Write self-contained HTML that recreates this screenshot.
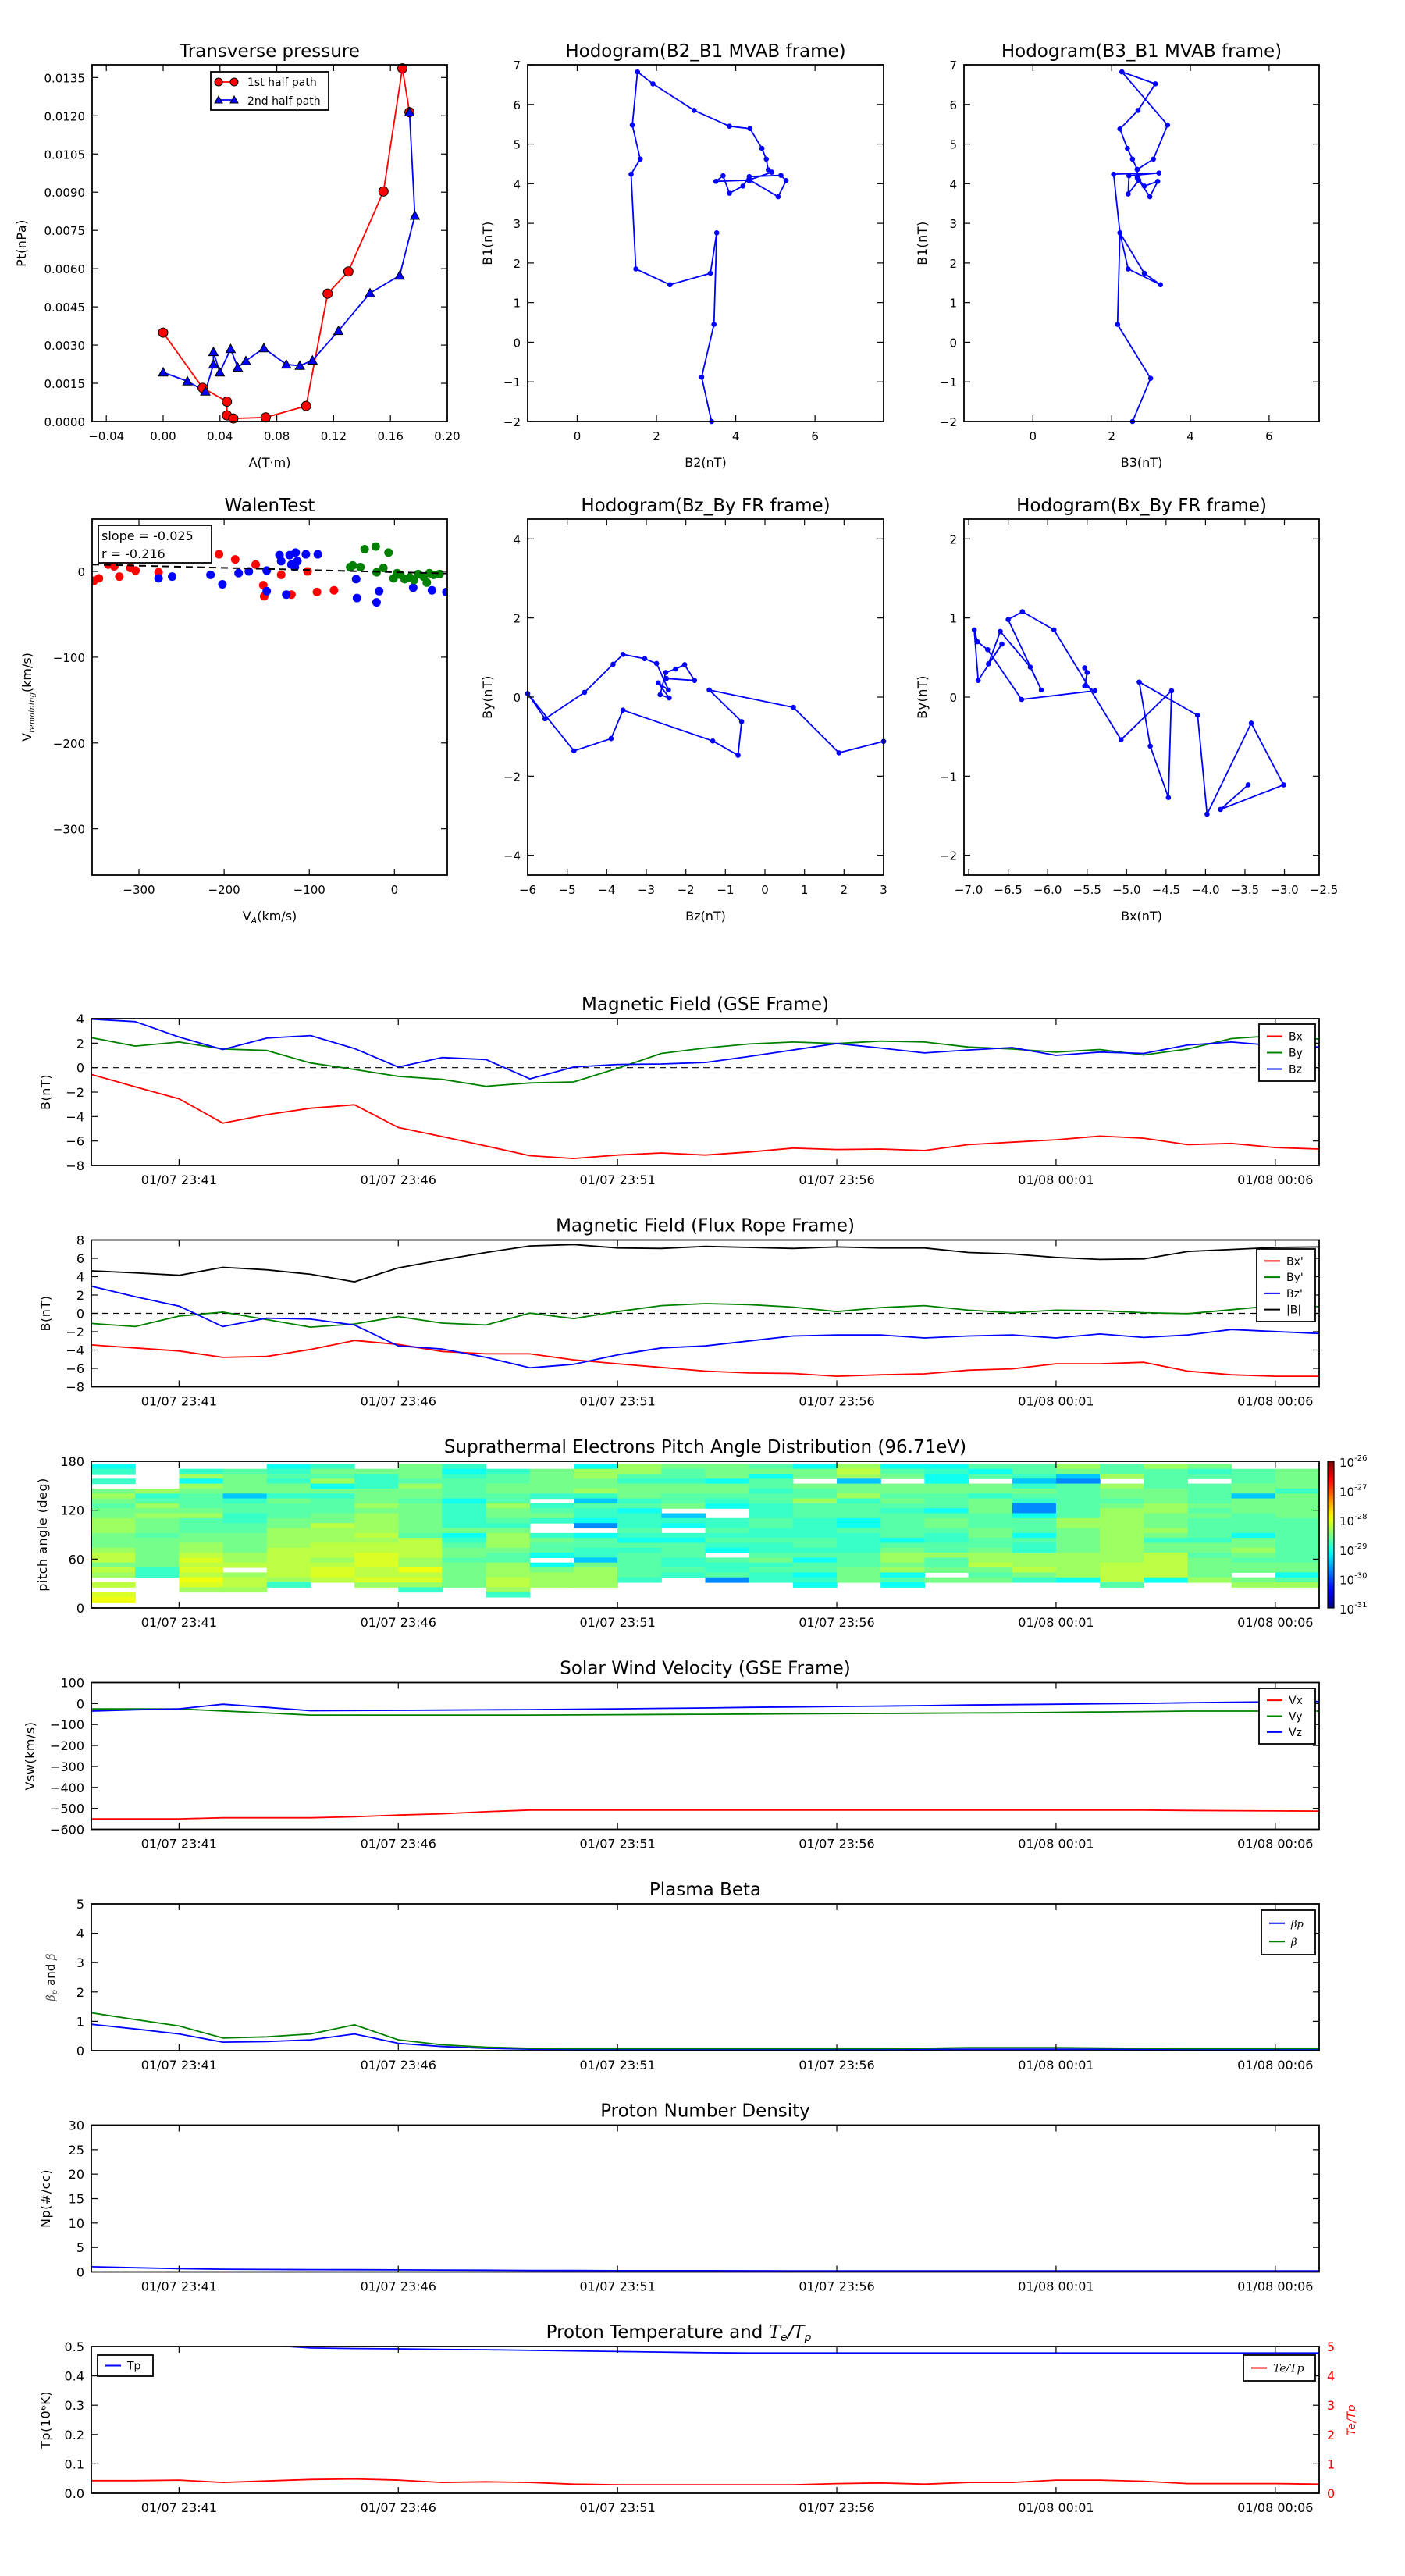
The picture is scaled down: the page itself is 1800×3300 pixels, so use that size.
<!DOCTYPE html>
<html><head><meta charset="utf-8"><title>Flux rope analysis</title>
<style>
html,body{margin:0;padding:0;background:#fff;}
svg{display:block;font-family:"DejaVu Sans","Liberation Sans",sans-serif;}
</style></head>
<body>
<svg id="chart" xmlns="http://www.w3.org/2000/svg" width="1800" height="3300" viewBox="0 0 1800 3300">
<rect x="0" y="0" width="1800" height="3300" fill="#fff"/>
<defs id="defs"></defs>
</svg>
<script>
// ---------- data: transverse pressure ----------
const tpRedA = [0.0000,0.0278,0.0449,0.0449,0.0494,0.0722,0.1006,0.1158,0.1304,0.1551,0.1684,0.1734];
const tpRedP = [0.00349,0.00132,0.00078,0.00024,0.00012,0.00016,0.00061,0.00502,0.00589,0.00903,0.01386,0.01214];
const tpBlueA = [0,0.0171,0.0297,0.0354,0.0354,0.0399,0.0475,0.0525,0.0582,0.0709,0.0867,0.0962,0.1051,0.1234,0.1456,0.1665,0.1772,0.1734];
const tpBlueP = [0.00193,0.00158,0.00118,0.00224,0.00273,0.00193,0.00285,0.00212,0.00238,0.00288,0.00224,0.00219,0.0024,0.00356,0.00504,0.00573,0.00808,0.01214];
const tpXTicks = [-0.04,0,0.04,0.08,0.12,0.16,0.20];
const tpXTickLabels = ["\u22120.04","0.00","0.04","0.08","0.12","0.16","0.20"];
const tpYTicks = [0,0.0015,0.003,0.0045,0.006,0.0075,0.009,0.0105,0.012,0.0135];
const tpYTickLabels = ["0.0000","0.0015","0.0030","0.0045","0.0060","0.0075","0.0090","0.0105","0.0120","0.0135"];
// ---------- hodogram MVAB ----------
const h1B2 = [3.39,3.14,3.45,3.52,3.36,2.34,1.48,1.36,1.59,1.39,1.52,1.91,2.95,3.84,4.36,4.66,4.77,4.82,4.91,4.32,3.5,3.68,3.84,4.18,4.34,5.14,5.27,5.07,4.36];
const h1B1 = [-2.0,-0.88,0.45,2.76,1.74,1.45,1.85,4.24,4.62,5.48,6.82,6.52,5.85,5.45,5.39,4.89,4.62,4.35,4.29,4.09,4.06,4.2,3.76,3.94,4.18,4.21,4.08,3.67,4.09];
const h2B3 = [2.53,2.99,2.15,2.21,2.83,3.24,2.42,2.21,2.05,3.2,2.44,2.42,2.69,2.97,3.17,2.83,2.65,2.65,2.53,2.4,2.21,2.67,3.11,2.26,3.42,3.06,2.65];
const h2B1 = [-2.0,-0.91,0.45,2.76,1.74,1.45,1.85,2.76,4.24,4.27,4.2,3.74,4.09,3.67,4.06,3.94,4.15,4.36,4.62,4.89,5.38,5.85,6.52,6.82,5.48,4.62,4.36];
const hXTicks = [0,2,4,6];
const hYTicks = [-2,-1,0,1,2,3,4,5,6,7];
// ---------- Walen test ----------
const walRedVA = [-353,-347,-336,-329,-323,-310,-304,-277,-206,-187,-163,-154,-153,-133,-121,-102,-91,-71];
const walRedVR = [-11,-8,8,6,-6,4,1,-1,20,14,8,-16,-29,-4,-27,0,-24,-22];
const walBlueVA = [-277,-261,-216,-202,-183,-171,-150,-150,-135,-133,-127,-123,-121,-117,-116,-114,-104,-90,-45,-44,-21,-18,22,44,61];
const walBlueVR = [-8,-6,-4,-15,-2,0,1,-23,19,12,-27,19,8,5,22,12,20,20,-9,-31,-36,-23,-19,-22,-24];
const walGreenVA = [-52,-49,-40,-35,-22,-21,-13,-7,-1,3,7,12,18,23,28,34,38,41,46,53];
const walGreenVR = [5,7,5,26,29,-1,4,22,-8,-2,-4,-9,-7,-10,-3,-6,-13,-2,-4,-3];
const walSlope = -0.025;
const walIntercept = -0.8;
const walXTicks = [-300,-200,-100,0];
const walYTicks = [0,-100,-200,-300];
// ---------- hodogram FR ----------
const frBz = [3.0,1.87,0.72,-1.41,-0.59,-0.68,-1.32,-3.59,-3.89,-4.83,-6.0,-5.56,-4.56,-3.84,-3.59,-3.04,-2.74,-2.44,-2.7,-2.42,-2.65,-2.51,-2.26,-2.03,-1.78,-2.49];
const frByA = [-1.12,-1.41,-0.26,0.18,-0.62,-1.47,-1.11,-0.33,-1.05,-1.36,0.09,-0.55,0.12,0.83,1.08,0.97,0.85,0.18,0.36,-0.02,0.06,0.62,0.71,0.82,0.42,0.47];
const frBx = [-3.46,-3.81,-3.01,-3.42,-3.98,-4.1,-4.84,-4.70,-4.47,-4.43,-5.07,-5.92,-6.32,-6.50,-6.08,-6.22,-6.60,-6.75,-6.58,-6.88,-6.93,-6.89,-6.76,-6.33,-5.40,-5.53,-5.50,-5.53];
const frByB = [-1.11,-1.42,-1.11,-0.33,-1.48,-0.23,0.19,-0.62,-1.27,0.08,-0.54,0.85,1.08,0.98,0.09,0.38,0.83,0.42,0.67,0.21,0.85,0.70,0.60,-0.03,0.08,0.14,0.31,0.37];
// ---------- time series (minutes from 01/07 23:39, 1-min cadence) ----------
const timeTickMinutes = [2,7,12,17,22,27];
const timeTickLabels = ["01/07 23:41","01/07 23:46","01/07 23:51","01/07 23:56","01/08 00:01","01/08 00:06"];
const gseBx = [-0.56,-1.57,-2.55,-4.54,-3.85,-3.32,-3.04,-4.9,-5.64,-6.41,-7.2,-7.43,-7.15,-6.98,-7.15,-6.9,-6.58,-6.7,-6.66,-6.78,-6.3,-6.1,-5.9,-5.6,-5.77,-6.3,-6.2,-6.54,-6.66];
const gseBy = [2.45,1.76,2.09,1.52,1.4,0.38,-0.15,-0.72,-0.96,-1.53,-1.25,-1.17,-0.06,1.16,1.6,1.93,2.09,1.97,2.17,2.09,1.68,1.52,1.27,1.48,1.03,1.52,2.37,2.62,2.33];
const gseBz = [3.96,3.76,2.5,1.48,2.41,2.62,1.56,0.05,0.83,0.66,-0.92,0.05,0.26,0.3,0.42,0.91,1.44,1.97,1.6,1.2,1.44,1.64,1.0,1.27,1.16,1.84,2.09,1.8,1.68];
const frBxp = [-3.44,-3.77,-4.1,-4.8,-4.7,-3.93,-2.95,-3.39,-4.15,-4.42,-4.42,-5.07,-5.5,-5.9,-6.3,-6.5,-6.55,-6.86,-6.7,-6.6,-6.2,-6.05,-5.5,-5.5,-5.34,-6.3,-6.7,-6.86,-6.86];
const frByp = [-1.1,-1.44,-0.3,0.14,-0.68,-1.5,-1.16,-0.35,-1.06,-1.27,0.03,-0.57,0.2,0.84,1.06,0.95,0.68,0.2,0.63,0.84,0.35,0.08,0.35,0.3,0.08,-0.03,0.4,0.84,0.73];
const frBzp = [2.96,1.82,0.79,-1.44,-0.52,-0.63,-1.27,-3.55,-3.88,-4.8,-5.94,-5.56,-4.53,-3.77,-3.55,-3.0,-2.47,-2.36,-2.36,-2.68,-2.47,-2.36,-2.68,-2.25,-2.63,-2.36,-1.76,-1.98,-2.2];
const frBt = [4.64,4.42,4.15,5.02,4.75,4.26,3.44,4.96,5.83,6.64,7.35,7.51,7.13,7.08,7.3,7.19,7.08,7.24,7.13,7.13,6.64,6.48,6.1,5.88,5.94,6.75,6.97,7.19,7.24];
const swVx = [-550,-550,-550,-545,-545,-545,-540,-532,-526,-516,-508,-508,-508,-508,-508,-508,-508,-508,-508,-508,-508,-508,-508,-508,-508,-510,-511,-512,-513];
const swVy = [-25,-25,-26,-35,-45,-55,-55,-55,-55,-55,-55,-54,-53,-52,-51,-50,-49,-48,-47,-46,-45,-44,-42,-40,-38,-36,-36,-36,-36];
const swVz = [-36,-30,-25,-3,-18,-34,-33,-32,-31,-30,-29,-27,-25,-23,-21,-18,-16,-14,-12,-10,-7,-5,-3,-1,1,4,6,8,10];
const betaP = [0.9,0.74,0.57,0.29,0.31,0.37,0.57,0.25,0.14,0.08,0.05,0.04,0.04,0.04,0.04,0.04,0.04,0.04,0.04,0.04,0.05,0.05,0.05,0.05,0.04,0.04,0.03,0.03,0.03];
const betaAll = [1.29,1.06,0.84,0.43,0.47,0.57,0.88,0.37,0.2,0.12,0.08,0.07,0.07,0.07,0.07,0.07,0.07,0.07,0.07,0.08,0.1,0.1,0.1,0.09,0.08,0.07,0.07,0.07,0.07];
const npDens = [1.05,0.85,0.65,0.55,0.5,0.47,0.45,0.42,0.38,0.35,0.3,0.28,0.26,0.25,0.25,0.24,0.23,0.22,0.22,0.21,0.2,0.2,0.2,0.2,0.2,0.2,0.2,0.2,0.2];
const tpTemp = [0.52,0.52,0.51,0.51,0.505,0.495,0.493,0.492,0.49,0.489,0.487,0.485,0.483,0.481,0.479,0.478,0.478,0.478,0.478,0.478,0.478,0.478,0.478,0.478,0.478,0.478,0.478,0.478,0.478];
const teTp = [0.43,0.43,0.45,0.37,0.42,0.47,0.49,0.45,0.37,0.39,0.37,0.31,0.29,0.29,0.29,0.29,0.29,0.33,0.35,0.31,0.37,0.37,0.45,0.45,0.41,0.33,0.33,0.33,0.31];
// ---------- pitch angle distribution: 28 one-minute columns x 28 angle bins (top=~177deg) ----------
// each char is a flux level index into padLevels (log10), '.' = no data
const padLevels = [-29.7,-29.4,-29.05,-28.85,-28.7,-28.55,-28.35,-28.2,-28.05,-27.95];
const padCols = [
"23.3.565455666555677576.7.89",
".....634656555455555533.....",
".3626544456444556678787986..",
".45555134433445555667.6776..",
"2343553544455666677777763...",
"354625344455766677767887....",
".533355565666676778887786...",
"55546554555555477776697863..",
"3234444233333523455455555...",
".34455446554356665446667763.",
".555553.3453..35442.25666...",
"2665563143320.24433156666...",
"664355534233343243444443....",
"544355445.132.324443343.....",
"555255432..3343432.43340....",
"452443443334433433453433....",
"255.544644433334434244232...",
"676155634442243333444555....",
"245.554543444442456656242...",
"2322554442455433446445.5....",
"424.55355544455445667545....",
"443135430024442433666753....",
"651044444446655555666662....",
"446.655456666666666677774...",
"644445556655565355777772....",
"534.44445454444355455556....",
".444551555444425565455.56...",
".555535555544444444455246..."
];
const padYTicks = [0,60,120,180];
const cbarExponents = ["-26","-27","-28","-29","-30","-31"];

// ================= rendering =================
const NS = 'http://www.w3.org/2000/svg';
const svg = document.getElementById('chart');
const defs = document.getElementById('defs');
let clipCount = 0;
function mk(tag, attrs, parent){
  const e = document.createElementNS(NS, tag);
  for (const k in attrs) e.setAttribute(k, attrs[k]);
  (parent || svg).appendChild(e);
  return e;
}
function lin(d0, d1, r0, r1){ return v => r0 + (v - d0) * (r1 - r0) / (d1 - d0); }
function txt(x, y, s, size, anchor, parent, extra){
  const a = {x: x, y: y, 'font-size': size, 'text-anchor': anchor || 'middle', fill: '#000'};
  if (extra) for (const k in extra) a[k] = extra[k];
  const t = mk('text', a, parent);
  t.textContent = s;
  return t;
}
function group(name, parent){
  const g = mk('g', {}, parent);
  
  
  return g;
}
function clipFor(x, y, w, h){
  const id = 'clip' + (clipCount++);
  const cp = mk('clipPath', {id: id}, defs);
  mk('rect', {x: x, y: y, width: w, height: h}, cp);
  return 'url(#' + id + ')';
}
function frame(g, x0, y0, w, h){
  const f = mk('rect', {x: x0, y: y0, width: w, height: h, fill: 'none', stroke: '#000', 'stroke-width': 1.8}, g);
  
  
}
function xTicks(g, x0, y0, w, h, sx, ticks, labels, fs, color){
  ticks.forEach((v, i) => {
    const x = sx(v);
    if (x < x0 - 0.5 || x > x0 + w + 0.5) return;
    const t1 = mk('line', {x1: x, x2: x, y1: y0 + h, y2: y0 + h - 8, stroke: '#000', 'stroke-width': 1.2}, g);
    
    
    const t2 = mk('line', {x1: x, x2: x, y1: y0, y2: y0 + 8, stroke: '#000', 'stroke-width': 1.2}, g);
    
    
  });
  ticks.forEach((v, i) => {
    const x = sx(v);
    const lb = txt(x, y0 + h + 24, labels[i], fs || 16, 'middle', g);
    
    
  });
}
function yTicks(g, x0, y0, w, h, sy, ticks, labels, fs){
  ticks.forEach((v, i) => {
    const y = sy(v);
    const t1 = mk('line', {x1: x0, x2: x0 + 8, y1: y, y2: y, stroke: '#000', 'stroke-width': 1.2}, g);
    
    
    const t2 = mk('line', {x1: x0 + w, x2: x0 + w - 8, y1: y, y2: y, stroke: '#000', 'stroke-width': 1.2}, g);
    
    
    const lb = txt(x0 - 9, y + 6, labels[i], fs || 16, 'end', g);
    
    
  });
}
function polyline(g, xs, ys, sx, sy, color, width, clip, name){
  const pts = xs.map((v, i) => sx(v).toFixed(1) + ',' + sy(ys[i]).toFixed(1)).join(' ');
  const p = mk('polyline', {points: pts, fill: 'none', stroke: color, 'stroke-width': width || 1.8, 'stroke-linejoin': 'round', 'clip-path': clip}, g);
  
  
  return p;
}
function dots(g, xs, ys, sx, sy, color, r, clip, name, stroke){
  xs.forEach((v, i) => {
    const c = mk('circle', {cx: sx(v), cy: sy(ys[i]), r: r, fill: color, stroke: stroke || 'none', 'stroke-width': 1, 'clip-path': clip}, g);
    
    
  });
}
function tris(g, xs, ys, sx, sy, color, s, clip, name){
  xs.forEach((v, i) => {
    const x = sx(v), y = sy(ys[i]);
    const p = mk('polygon', {points: `${x},${y - s} ${x - s},${y + s * 0.8} ${x + s},${y + s * 0.8}`, fill: color, stroke: '#000', 'stroke-width': 1, 'clip-path': clip}, g);
    
    
  });
}
function title(g, x, y, s){
  const t = txt(x, y, s, 23, 'middle', g);
  
  
  return t;
}
function ylab(g, x, y, s, color){
  const t = txt(x, y, s, 16, 'middle', g, {transform: `rotate(-90 ${x} ${y})`, fill: color || '#000', 'letter-spacing': '0.5'});
  
  
  return t;
}
function xlab(g, x, y, s){
  const t = txt(x, y, s, 16, 'middle', g);
  
  
  return t;
}
function legend(g, x, y, w, h, entries, fs){
  const lg = group('legend', g);
  const b = mk('rect', {x: x, y: y, width: w, height: h, fill: '#fff', stroke: '#000', 'stroke-width': 1.8}, lg);
  
  
  const step = (h - 10) / entries.length;
  entries.forEach((e, i) => {
    const cy = y + 5 + step * (i + 0.5);
    const l = mk('line', {x1: x + 10, x2: x + 30, y1: cy, y2: cy, stroke: e.color, 'stroke-width': 2}, lg);
    
    
    const t = txt(x + 38, cy + 5, e.label, fs || 14, 'start', lg, e.italic ? {'font-style': 'italic', 'font-family': '"DejaVu Serif","Liberation Serif",serif'} : {});
    
    
  });
  return lg;
}

// ---------- top row geometry ----------
const R1T = 83, R1B = 540, R2T = 665, R2B = 1121;
const C1 = [118, 573], C2 = [676, 1132], C3 = [1235, 1690];

// Transverse pressure
(function(){
  const g = group('transverse-pressure-panel');
  const x0 = C1[0], w = C1[1] - C1[0], y0 = R1T, h = R1B - R1T;
  const sx = lin(-0.05, 0.20, x0, x0 + w), sy = lin(0, 0.014, y0 + h, y0);
  const clip = clipFor(x0 - 8, y0 - 8, w + 16, h + 16);
  polyline(g, tpRedA, tpRedP, sx, sy, '#ff0000', 1.8, clip, 'first-half-path-line');
  polyline(g, tpBlueA, tpBlueP, sx, sy, '#0000ff', 1.8, clip, 'second-half-path-line');
  dots(g, tpRedA, tpRedP, sx, sy, '#ff0000', 6, clip, 'first-half-point', '#000');
  tris(g, tpBlueA, tpBlueP, sx, sy, '#0000ff', 6, clip, 'second-half-point');
  frame(g, x0, y0, w, h);
  xTicks(g, x0, y0, w, h, sx, tpXTicks, tpXTickLabels, 15);
  yTicks(g, x0, y0, w, h, sy, tpYTicks, tpYTickLabels, 15);
  title(g, (x0 + x0 + w) / 2, 73, 'Transverse pressure');
  xlab(g, (x0 + x0 + w) / 2, 598, 'A(T\u00b7m)');
  ylab(g, 33, (y0 + y0 + h) / 2, 'Pt(nPa)');
  const lg = group('legend', g);
  const b = mk('rect', {x: 270, y: 92, width: 151, height: 49, fill: '#fff', stroke: '#000', 'stroke-width': 1.8}, lg);
  
  
  const l1 = mk('line', {x1: 280, x2: 300, y1: 105, y2: 105, stroke: '#f00', 'stroke-width': 1.8}, lg);
  
  
  dots(lg, [280, 300], [105, 105], v => v, v => v, '#f00', 5, null, 'legend-marker', '#000');
  const t1 = txt(317, 110, '1st half path', 14, 'start', lg);
  
  
  const l2 = mk('line', {x1: 280, x2: 300, y1: 128, y2: 128, stroke: '#00f', 'stroke-width': 1.8}, lg);
  
  
  tris(lg, [280, 300], [128, 128], v => v, v => v, '#00f', 5, null, 'legend-marker');
  const t2 = txt(317, 134, '2nd half path', 14, 'start', lg);
  
  
})();

function hodo(name, col, top, bot, xr, yr, xs, ys, xticks, xtl, yticks, ytl, ttl, xl, yl){
  const g = group(name);
  const x0 = col[0], w = col[1] - col[0], y0 = top, h = bot - top;
  const sx = lin(xr[0], xr[1], x0, x0 + w), sy = lin(yr[0], yr[1], y0 + h, y0);
  const clip = clipFor(x0 - 5, y0 - 5, w + 10, h + 10);
  polyline(g, xs, ys, sx, sy, '#0000ff', 1.8, clip, 'hodogram-path');
  dots(g, xs, ys, sx, sy, '#0000ff', 3.3, clip, 'hodogram-point');
  frame(g, x0, y0, w, h);
  xTicks(g, x0, y0, w, h, sx, xticks, xtl, 15);
  yTicks(g, x0, y0, w, h, sy, yticks, ytl, 15);
  title(g, x0 + w / 2, top - 10, ttl);
  xlab(g, x0 + w / 2, bot + 58, xl);
  ylab(g, col[0] === C2[0] ? 630 : 1187, top + h / 2, yl);
  return g;
}
const fmtMinus = v => (v < 0 ? '\u2212' : '') + Math.abs(v);
hodo('hodogram-b2-b1-panel', C2, R1T, R1B, [-1.25, 7.73], [-2, 7], h1B2, h1B1, hXTicks, hXTicks.map(fmtMinus), hYTicks, hYTicks.map(fmtMinus), 'Hodogram(B2_B1 MVAB frame)', 'B2(nT)', 'B1(nT)');
hodo('hodogram-b3-b1-panel', C3, R1T, R1B, [-1.75, 7.27], [-2, 7], h2B3, h2B1, hXTicks, hXTicks.map(fmtMinus), hYTicks, hYTicks.map(fmtMinus), 'Hodogram(B3_B1 MVAB frame)', 'B3(nT)', 'B1(nT)');

// Walen test
(function(){
  const g = group('walen-test-panel');
  const x0 = C1[0], w = C1[1] - C1[0], y0 = R2T, h = R2B - R2T;
  const sx = lin(-355, 62, x0, x0 + w), sy = lin(-354, 61, y0 + h, y0);
  const clip = clipFor(x0, y0, w, h);
  dots(g, walRedVA, walRedVR, sx, sy, '#ff0000', 5.5, clip, 'walen-point-red');
  dots(g, walBlueVA, walBlueVR, sx, sy, '#0000ff', 5.5, clip, 'walen-point-blue');
  dots(g, walGreenVA, walGreenVR, sx, sy, '#008000', 5.5, clip, 'walen-point-green');
  const fx = [-355, 62];
  const fy = fx.map(v => walSlope * v + walIntercept);
  const fl = polyline(g, fx, fy, sx, sy, '#000', 2, clip, 'walen-fit-line');
  fl.setAttribute('stroke-dasharray', '9,6');
  frame(g, x0, y0, w, h);
  xTicks(g, x0, y0, w, h, sx, walXTicks, walXTicks.map(fmtMinus), 15);
  yTicks(g, x0, y0, w, h, sy, walYTicks, walYTicks.map(fmtMinus), 15);
  title(g, x0 + w / 2, R2T - 10, 'WalenTest');
  const xt = txt(x0 + w / 2, R2B + 58, 'V', 16, 'middle', g);
  
  
  const ts = mk('tspan', {'font-size': 11, 'font-style': 'italic', dy: 4}, xt); ts.textContent = 'A';
  const ts2 = mk('tspan', {dy: -4}, xt); ts2.textContent = '(km/s)';
  const yt = txt(40, y0 + h / 2, 'V', 16, 'middle', g, {transform: `rotate(-90 40 ${y0 + h / 2})`});
  
  
  const ys1 = mk('tspan', {'font-size': 10, 'font-style': 'italic', dy: 4, 'font-family': '"DejaVu Serif",serif'}, yt); ys1.textContent = 'remaining';
  const ys2 = mk('tspan', {dy: -4}, yt); ys2.textContent = '(km/s)';
  const box = mk('rect', {x: 126, y: 673, width: 145, height: 48, fill: '#fff', stroke: '#000', 'stroke-width': 1.8}, g);
  
  
  const s1 = txt(130, 692, 'slope = -0.025', 16, 'start', g);
  
  
  const s2 = txt(130, 715, 'r = -0.216', 16, 'start', g);
  
  
})();
const frYTicksA = [-4,-2,0,2,4];
const frXTicksA = [-6,-5,-4,-3,-2,-1,0,1,2,3];
hodo('hodogram-bz-by-panel', C2, R2T, R2B, [-6, 3], [-4.5, 4.5], frBz, frByA, frXTicksA, frXTicksA.map(fmtMinus), frYTicksA, frYTicksA.map(fmtMinus), 'Hodogram(Bz_By FR frame)', 'Bz(nT)', 'By(nT)');
const frYTicksB = [-2,-1,0,1,2];
const frXTicksB = [-7,-6.5,-6,-5.5,-5,-4.5,-4,-3.5,-3,-2.5];
hodo('hodogram-bx-by-panel', C3, R2T, R2B, [-7.06, -2.56], [-2.25, 2.25], frBx, frByB, frXTicksB, frXTicksB.map(v => fmtMinus(v.toFixed(1) * 1).replace(/^(\u2212?\d)$/, '$1.0')), frYTicksB, frYTicksB.map(fmtMinus), 'Hodogram(Bx_By FR frame)', 'Bx(nT)', 'By(nT)');

// ---------- time panels ----------
const TL = 117, TR = 1690, TH = 188;
const panelTops = [1305, 1588.5, 1872, 2155.5, 2439, 2722.5, 3006];
const xT = lin(0, 28, TL, TR);
const minutes = gseBx.map((_, i) => i);
function timeAxes(g, top, sy, yticks, ytl){
  frame(g, TL, top, TR - TL, TH);
  xTicks(g, TL, top, TR - TL, TH, xT, timeTickMinutes, timeTickLabels, 16);
  yTicks(g, TL, top, TR - TL, TH, sy, yticks, ytl, 16);
}
function zeroLine(g, sy, clip){
  const z = mk('line', {x1: TL, x2: TR, y1: sy(0), y2: sy(0), stroke: '#000', 'stroke-width': 1.2, 'stroke-dasharray': '8,6', 'clip-path': clip}, g);
  
  
}

// GSE
(function(){
  const top = panelTops[0];
  const g = group('magnetic-field-gse-panel');
  const sy = lin(-8, 4, top + TH, top);
  const clip = clipFor(TL, top, TR - TL, TH);
  zeroLine(g, sy, clip);
  polyline(g, minutes, gseBx, xT, sy, '#ff0000', 1.8, clip, 'bx-line');
  polyline(g, minutes, gseBy, xT, sy, '#008000', 1.8, clip, 'by-line');
  polyline(g, minutes, gseBz, xT, sy, '#0000ff', 1.8, clip, 'bz-line');
  const yt = [-8,-6,-4,-2,0,2,4];
  timeAxes(g, top, sy, yt, yt.map(fmtMinus));
  title(g, (TL + TR) / 2, top - 11, 'Magnetic Field (GSE Frame)');
  ylab(g, 64, top + TH / 2, 'B(nT)');
  legend(g, 1613, 1312, 72, 73, [{label: 'Bx', color: '#f00'}, {label: 'By', color: '#008000'}, {label: 'Bz', color: '#00f'}]);
})();
// Flux rope
(function(){
  const top = panelTops[1];
  const g = group('magnetic-field-flux-rope-panel');
  const sy = lin(-8, 8, top + TH, top);
  const clip = clipFor(TL, top, TR - TL, TH);
  zeroLine(g, sy, clip);
  polyline(g, minutes, frBxp, xT, sy, '#ff0000', 1.8, clip, 'bx-prime-line');
  polyline(g, minutes, frByp, xT, sy, '#008000', 1.8, clip, 'by-prime-line');
  polyline(g, minutes, frBzp, xT, sy, '#0000ff', 1.8, clip, 'bz-prime-line');
  polyline(g, minutes, frBt, xT, sy, '#000000', 1.8, clip, 'b-magnitude-line');
  const yt = [-8,-6,-4,-2,0,2,4,6,8];
  timeAxes(g, top, sy, yt, yt.map(fmtMinus));
  title(g, (TL + TR) / 2, top - 11, 'Magnetic Field (Flux Rope Frame)');
  ylab(g, 64, top + TH / 2, 'B(nT)');
  legend(g, 1610, 1600, 75, 93, [{label: "Bx'", color: '#f00'}, {label: "By'", color: '#008000'}, {label: "Bz'", color: '#00f'}, {label: '|B|', color: '#000'}]);
})();
// PAD
function jet(t){
  const c = v => Math.round(255 * Math.max(0, Math.min(1, v)));
  return `rgb(${c(1.5 - Math.abs(4 * t - 3))},${c(1.5 - Math.abs(4 * t - 2))},${c(1.5 - Math.abs(4 * t - 1))})`;
}
(function(){
  const top = panelTops[2];
  const g = group('pitch-angle-distribution-panel');
  const sy = lin(0, 180, top + TH, top);
  const binTop = 176.8, binH = 6.05;
  const cells = group('heatmap-cells', g);
  padCols.forEach((col, c) => {
    for (let r = 0; r < col.length; r++) {
      const ch = col[r];
      if (ch === '.') continue;
      const v = padLevels[+ch];
      const a1 = binTop - r * binH, a0 = a1 - binH;
      const x1 = xT(c), x2 = xT(c + 1);
      const rc = mk('rect', {x: x1.toFixed(1), y: sy(a1).toFixed(1), width: (x2 - x1 + 0.6).toFixed(1), height: (sy(a0) - sy(a1) + 0.6).toFixed(1), fill: jet((v + 31) / 5)}, cells);
      
      
    }
  });
  timeAxes(g, top, sy, padYTicks, padYTicks.map(String));
  title(g, (TL + TR) / 2, top - 11, 'Suprathermal Electrons Pitch Angle Distribution (96.71eV)');
  ylab(g, 60, top + TH / 2, 'pitch angle (deg)');
  // colorbar
  const gid = 'jetgrad';
  const lgd = mk('linearGradient', {id: gid, x1: 0, y1: 1, x2: 0, y2: 0}, defs);
  for (let i = 0; i <= 20; i++) mk('stop', {offset: i / 20, 'stop-color': jet(i / 20)}, lgd);
  const cb = group('colorbar', g);
  const cr = mk('rect', {x: 1701, y: top, width: 8, height: TH, fill: `url(#${gid})`, stroke: '#000', 'stroke-width': 1.2}, cb);
  
  
  cbarExponents.forEach((e, i) => {
    const y = top + i * TH / 5;
    const t = txt(1716, y + 7, '10', 15, 'start', cb);
    
    
    const sp = mk('tspan', {'font-size': 10, dy: -8}, t); sp.textContent = e;
  });
})();
// Solar wind
(function(){
  const top = panelTops[3];
  const g = group('solar-wind-velocity-panel');
  const sy = lin(-600, 100, top + TH, top);
  const clip = clipFor(TL, top, TR - TL, TH);
  polyline(g, minutes, swVx, xT, sy, '#ff0000', 1.8, clip, 'vx-line');
  polyline(g, minutes, swVy, xT, sy, '#008000', 1.8, clip, 'vy-line');
  polyline(g, minutes, swVz, xT, sy, '#0000ff', 1.8, clip, 'vz-line');
  const yt = [-600,-500,-400,-300,-200,-100,0,100];
  timeAxes(g, top, sy, yt, yt.map(fmtMinus));
  title(g, (TL + TR) / 2, top - 11, 'Solar Wind Velocity (GSE Frame)');
  ylab(g, 44, top + TH / 2, 'Vsw(km/s)');
  legend(g, 1613, 2163, 72, 71, [{label: 'Vx', color: '#f00'}, {label: 'Vy', color: '#008000'}, {label: 'Vz', color: '#00f'}]);
})();
// Plasma beta
(function(){
  const top = panelTops[4];
  const g = group('plasma-beta-panel');
  const sy = lin(0, 5, top + TH, top);
  const clip = clipFor(TL, top, TR - TL, TH);
  polyline(g, minutes, betaP, xT, sy, '#0000ff', 1.8, clip, 'beta-p-line');
  polyline(g, minutes, betaAll, xT, sy, '#008000', 1.8, clip, 'beta-line');
  const yt = [0,1,2,3,4,5];
  timeAxes(g, top, sy, yt, yt.map(String));
  title(g, (TL + TR) / 2, top - 11, 'Plasma Beta');
  const yl = txt(70, top + TH / 2, '', 15, 'middle', g, {transform: `rotate(-90 70 ${top + TH / 2})`});
  
  
  const a = mk('tspan', {'font-style': 'italic', 'font-family': '"DejaVu Serif",serif', fill: '#555'}, yl); a.textContent = '\u03b2';
  const b = mk('tspan', {'font-size': 10, 'font-style': 'italic', dy: 3, fill: '#555'}, yl); b.textContent = 'p';
  const c = mk('tspan', {dy: -3}, yl); c.textContent = ' and ';
  const d = mk('tspan', {'font-style': 'italic', 'font-family': '"DejaVu Serif",serif', fill: '#555'}, yl); d.textContent = '\u03b2';
  legend(g, 1616, 2447, 69, 57, [{label: '\u03b2p', color: '#00f', italic: true}, {label: '\u03b2', color: '#008000', italic: true}], 13);
})();
// Proton density
(function(){
  const top = panelTops[5];
  const g = group('proton-density-panel');
  const sy = lin(0, 30, top + TH, top);
  const clip = clipFor(TL, top, TR - TL, TH);
  polyline(g, minutes, npDens, xT, sy, '#0000ff', 1.8, clip, 'np-line');
  const yt = [0,5,10,15,20,25,30];
  timeAxes(g, top, sy, yt, yt.map(String));
  title(g, (TL + TR) / 2, top - 11, 'Proton Number Density');
  ylab(g, 64, top + TH / 2, 'Np(#/cc)');
})();
// Proton temperature
(function(){
  const top = panelTops[6];
  const g = group('proton-temperature-panel');
  const sy = lin(0, 0.5, top + TH, top);
  const sy2 = lin(0, 5, top + TH, top);
  const clip = clipFor(TL, top, TR - TL, TH);
  polyline(g, minutes, tpTemp, xT, sy, '#0000ff', 1.8, clip, 'tp-line');
  polyline(g, minutes, teTp, xT, sy2, '#ff0000', 1.8, clip, 'te-tp-ratio-line');
  const yt = [0,0.1,0.2,0.3,0.4,0.5];
  timeAxes(g, top, sy, yt, yt.map(v => v.toFixed(1)));
  [0,1,2,3,4,5].forEach(v => {
    const t = txt(1700, sy2(v) + 6, String(v), 16, 'start', g, {fill: '#ff0000'});
    
    
  });
  const tt = title(g, (TL + TR) / 2 - 34, top - 11, 'Proton Temperature and ');
  const t1 = mk('tspan', {'font-style': 'italic', 'font-family': '"DejaVu Serif",serif'}, tt); t1.textContent = 'T';
  const t2 = mk('tspan', {'font-size': 14, 'font-style': 'italic', dy: 4}, tt); t2.textContent = 'e';
  const t3 = mk('tspan', {dy: -4, 'font-style': 'italic'}, tt); t3.textContent = '/T';
  const t4 = mk('tspan', {'font-size': 14, 'font-style': 'italic', dy: 4}, tt); t4.textContent = 'p';
  ylab(g, 64, top + TH / 2, 'Tp(10\u2076K)');
  const rl = ylab(g, 1736, top + TH / 2, 'Te/Tp', '#ff0000');
  rl.setAttribute('font-style', 'italic');
  rl.setAttribute('font-size', '14');
  legend(g, 125, 3017, 71, 27, [{label: 'Tp', color: '#00f'}]);
  legend(g, 1593, 3017, 92, 33, [{label: 'Te/Tp', color: '#f00', italic: true}]);
})();
</script>
</body></html>
